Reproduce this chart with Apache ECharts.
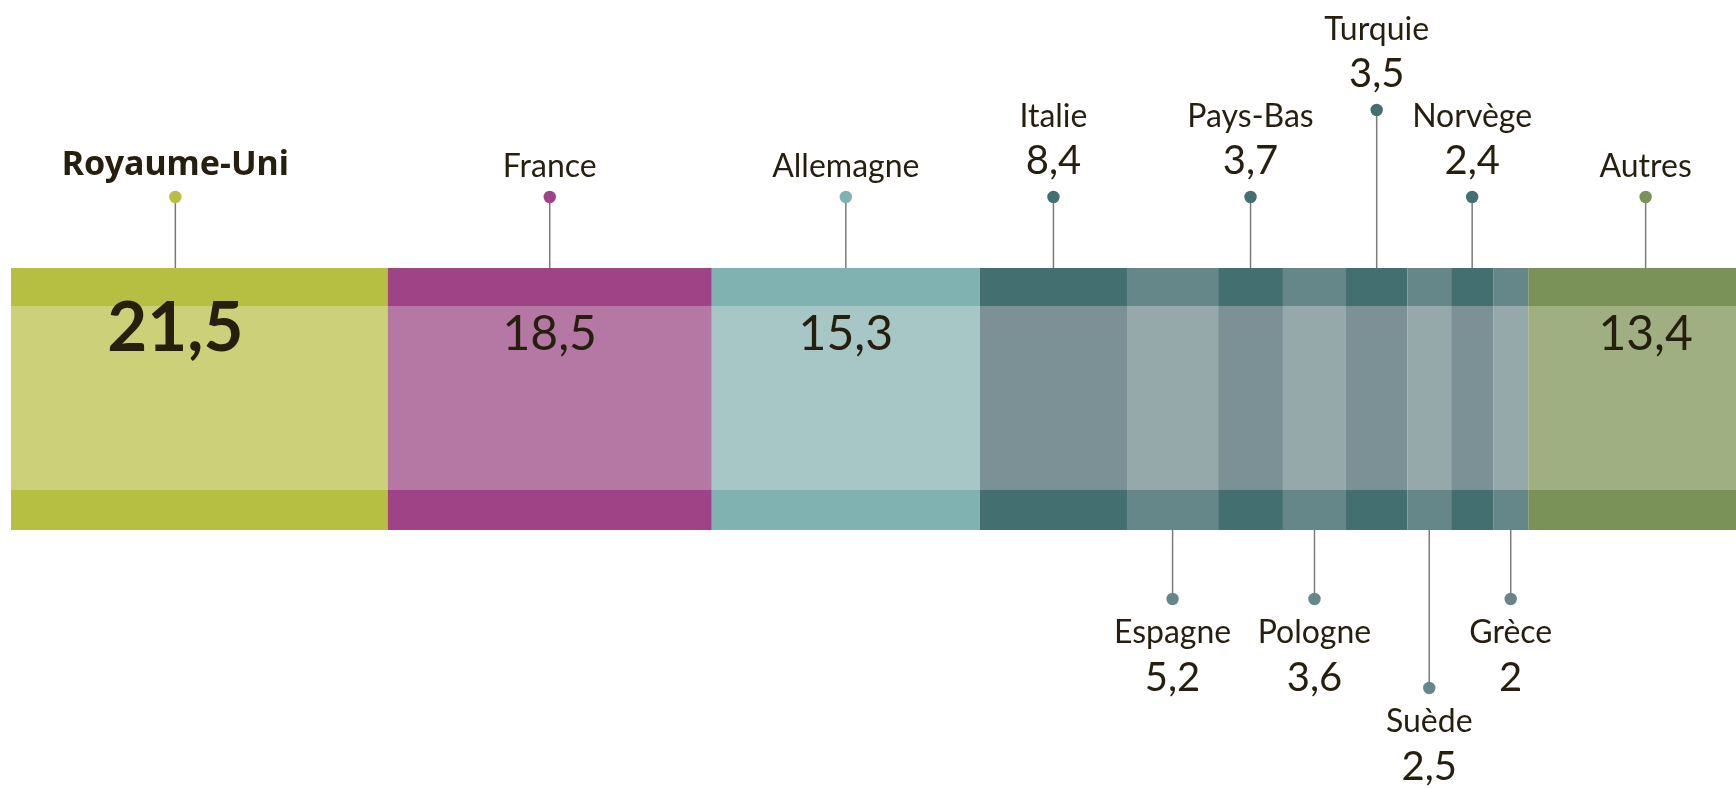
<!DOCTYPE html>
<html>
<head>
<meta charset="utf-8">
<script src="https://cdn.jsdelivr.net/npm/echarts@6/dist/echarts.min.js"></script>
<style>
  html, body { margin: 0; padding: 0; background: #ffffff; }
  #chart { width: 1736px; height: 788px; }
</style>
</head>
<body>
<div id="chart"></div>
<script>
// Share of the total, in percent, by country
const countries = ['Royaume-Uni', 'France', 'Allemagne', 'Italie', 'Espagne', 'Pays-Bas',
                   'Pologne', 'Turquie', 'Suède', 'Norvège', 'Grèce', 'Autres'];
const shares = [21.5, 18.5, 15.3, 8.4, 5.2, 3.7, 3.6, 3.5, 2.5, 2.4, 2, 13.4];

// Colour families: [outer band, inner fill]
const palette = {
  lime:      ['#b6bf41', '#ccd179'],
  plum:      ['#9f4386', '#b577a3'],
  aqua:      ['#80b2b2', '#a7c6c6'],
  tealDark:  ['#436f70', '#7b9195'],
  tealLight: ['#668789', '#95a8aa'],
  olive:     ['#7a9257', '#a0af82']
};
const family = ['lime', 'plum', 'aqua', 'tealDark', 'tealLight', 'tealDark',
                'tealLight', 'tealDark', 'tealLight', 'tealDark', 'tealLight', 'olive'];

// Callout placement: which side of the bar, how far out, and whether the figure sits inside the bar
const callouts = {
  'Royaume-Uni': { side: 'top',    tier: 0, inside: true, strong: true, nudge: -24 },
  'France':      { side: 'top',    tier: 0, inside: true },
  'Allemagne':   { side: 'top',    tier: 0, inside: true },
  'Italie':      { side: 'top',    tier: 0 },
  'Espagne':     { side: 'bottom', tier: 0 },
  'Pays-Bas':    { side: 'top',    tier: 0 },
  'Pologne':     { side: 'bottom', tier: 0 },
  'Turquie':     { side: 'top',    tier: 1 },
  'Suède':       { side: 'bottom', tier: 1 },
  'Norvège':     { side: 'top',    tier: 0 },
  'Grèce':       { side: 'bottom', tier: 0 },
  'Autres':      { side: 'top',    tier: 0, inside: true }
};

const INK = '#261f0e';
const LEADER = '#7d7a76';
const FONT = 'Lato, "Noto Sans", sans-serif';
const STRONG_FONT = '"Noto Sans", Lato, sans-serif';

const fmt = v => String(v).replace('.', ',');

// Cumulative extents of each segment along the value axis
const segments = [];
let acc = 0;
shares.forEach((v, i) => {
  segments.push([acc, acc + v, i]);
  acc += v;
});
const mids = segments.map(s => [(s[0] + s[1]) / 2, 0.5, s[2]]);

function renderSegment(params, api) {
  const i = api.value(2);
  const x0 = api.coord([api.value(0), 0])[0];
  const x1 = api.coord([api.value(1), 0])[0];
  const cs = params.coordSys;
  const top = cs.y, h = cs.height;
  const bandTop = Math.round(h * 0.146);
  const bandBot = Math.round(h * 0.151);
  const [dark, light] = palette[family[i]];
  return {
    type: 'group',
    children: [
      { type: 'rect', shape: { x: x0, y: top, width: x1 - x0, height: bandTop }, style: { fill: dark } },
      { type: 'rect', shape: { x: x0, y: top + bandTop, width: x1 - x0, height: h - bandTop - bandBot }, style: { fill: light } },
      { type: 'rect', shape: { x: x0, y: top + h - bandBot, width: x1 - x0, height: bandBot }, style: { fill: dark } }
    ]
  };
}

function renderCallout(params, api) {
  const i = api.value(2);
  const name = countries[i];
  const c = callouts[name];
  const cs = params.coordSys;
  const top = cs.y, bottom = cs.y + cs.height;
  const cx = api.coord([api.value(0), 0])[0] + (c.nudge || 0);
  const dotColor = palette[family[i]][0];
  const label = fmt(shares[i]);
  const children = [];
  const nameFont = c.strong ? '700 34px ' + STRONG_FONT : '400 32px ' + FONT;
  const valueFont = '400 40px ' + FONT;
  const text = (y, str, font) => ({
    type: 'text', x: cx, y: y,
    style: { text: str, fill: INK, font: font, align: 'center', verticalAlign: 'middle' }
  });

  if (c.side === 'top') {
    const dy = top - 71 - c.tier * 87;
    children.push({ type: 'line', shape: { x1: cx, y1: dy, x2: cx, y2: top }, style: { stroke: LEADER, lineWidth: 1.5 } });
    children.push({ type: 'circle', shape: { cx: cx, cy: dy, r: 6.2 }, style: { fill: dotColor } });
    if (c.inside) {
      children.push(text(dy - (c.strong ? 32 : 30), name, nameFont));
      children.push(text(top + (c.strong ? 61 : 67), label,
        (c.strong ? '700 69px ' : '400 48px ') + FONT));
    } else {
      children.push(text(dy - 80, name, nameFont));
      children.push(text(dy - 36, label, valueFont));
    }
  } else {
    const dy = bottom + 69 + c.tier * 89;
    children.push({ type: 'line', shape: { x1: cx, y1: bottom, x2: cx, y2: dy }, style: { stroke: LEADER, lineWidth: 1.5 } });
    children.push({ type: 'circle', shape: { cx: cx, cy: dy, r: 6.2 }, style: { fill: dotColor } });
    children.push(text(dy + 34, name, nameFont));
    children.push(text(dy + 79, label, valueFont));
  }
  return { type: 'group', children: children };
}

const chart = echarts.init(document.getElementById('chart'), null, { renderer: 'canvas' });
chart.setOption({
  backgroundColor: '#ffffff',
  animation: false,
  grid: { left: 11, top: 268, width: 1752, height: 262, containLabel: false, outerBoundsMode: 'none' },
  xAxis: { type: 'value', min: 0, max: 100, show: false },
  yAxis: { type: 'value', min: 0, max: 1, show: false },
  series: [
    {
      type: 'custom',
      name: 'parts',
      renderItem: renderSegment,
      encode: { x: [0, 1] },
      data: segments,
      silent: true,
      z: 1
    },
    {
      type: 'custom',
      name: 'repères',
      renderItem: renderCallout,
      encode: { x: 0, y: 1 },
      data: mids,
      silent: true,
      z: 2
    }
  ]
});
</script>
</body>
</html>
